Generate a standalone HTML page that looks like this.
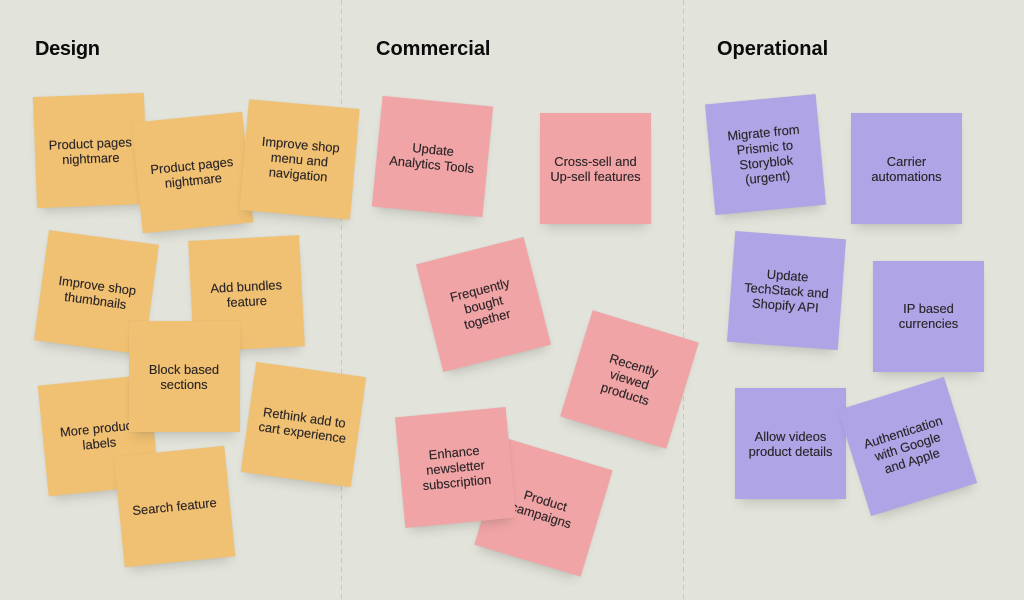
<!DOCTYPE html>
<html>
<head>
<meta charset="utf-8">
<style>
html,body{margin:0;padding:0;width:1024px;height:600px;overflow:hidden;background:#e2e3db;}
body{position:relative;font-family:"Liberation Sans",sans-serif;}
.h{position:absolute;top:37px;font-size:20px;line-height:24px;font-weight:bold;color:#0b0b0b;white-space:nowrap;}
.d{position:absolute;top:0;width:1.5px;height:600px;background:repeating-linear-gradient(to bottom,#c6c7c1 0,#c6c7c1 5px,transparent 5px,transparent 9px);}
.n{position:absolute;width:111px;height:111px;margin:-55.5px 0 0 -55.5px;display:flex;align-items:center;justify-content:center;text-align:center;font-size:12.9px;line-height:15px;color:#2a2427;-webkit-text-stroke:.12px #2a2427;box-shadow:0 9px 10px -5px rgba(70,70,60,.2),0 0 2px rgba(70,70,60,.08);white-space:nowrap;}
.o{background:#f0c172;}
.p{background:#f1a4a5;}
.v{background:#aea4e6;}
</style>
</head>
<body>
<div class="d" style="left:340.5px"></div>
<div class="d" style="left:682.5px"></div>
<div class="h" style="left:35px;letter-spacing:-.35px">Design</div>
<div class="h" style="left:376px">Commercial</div>
<div class="h" style="left:717px">Operational</div>

<div class="n o" style="left:90px;top:150px;transform:rotate(-2.2deg)"><div>Product pages<br>nightmare</div></div>
<div class="n o" style="left:192px;top:172px;transform:rotate(-5.7deg)"><div>Product pages<br>nightmare</div></div>
<div class="n o" style="left:299px;top:159px;transform:rotate(5deg)"><div>Improve shop<br>menu and<br>navigation</div></div>
<div class="n o" style="left:96px;top:292.5px;transform:rotate(7.7deg)"><div>Improve shop<br>thumbnails</div></div>
<div class="n o" style="left:246px;top:293px;transform:rotate(-3deg)"><div>Add bundles<br>feature</div></div>
<div class="n o" style="left:98px;top:435.5px;transform:rotate(-5.7deg)"><div>More product<br>labels</div></div>
<div class="n o" style="left:184px;top:376.5px"><div>Block based<br>sections</div></div>
<div class="n o" style="left:174px;top:506px;transform:rotate(-5.7deg)"><div>Search feature</div></div>
<div class="n o" style="left:303px;top:424px;transform:rotate(8deg)"><div>Rethink add to<br>cart experience</div></div>

<div class="n p" style="left:432px;top:156.5px;transform:rotate(5.6deg)"><div>Update<br>Analytics Tools</div></div>
<div class="n p" style="left:595.5px;top:168.5px"><div>Cross-sell and<br>Up-sell features</div></div>
<div class="n p" style="left:483px;top:304.5px;transform:rotate(-14.3deg)"><div>Frequently<br>bought<br>together</div></div>
<div class="n p" style="left:629.5px;top:379px;transform:rotate(17deg)"><div>Recently<br>viewed<br>products</div></div>
<div class="n p" style="left:543px;top:507.5px;transform:rotate(16.8deg)"><div>Product<br>campaigns</div></div>
<div class="n p" style="left:455.5px;top:467.5px;transform:rotate(-5.4deg)"><div>Enhance<br>newsletter<br>subscription</div></div>

<div class="n v" style="left:765.5px;top:154px;transform:rotate(-5.4deg)"><div>Migrate from<br>Prismic to<br>Storyblok<br>(urgent)</div></div>
<div class="n v" style="left:906.5px;top:168.5px"><div>Carrier<br>automations</div></div>
<div class="n v" style="left:786px;top:290px;transform:rotate(4.3deg)"><div>Update<br>TechStack and<br>Shopify API</div></div>
<div class="n v" style="left:928.5px;top:316px"><div>IP based<br>currencies</div></div>
<div class="n v" style="left:790.5px;top:443.5px"><div>Allow videos<br>product details</div></div>
<div class="n v" style="left:907.5px;top:446.5px;transform:rotate(-17.4deg)"><div>Authentication<br>with Google<br>and Apple</div></div>
</body>
</html>
